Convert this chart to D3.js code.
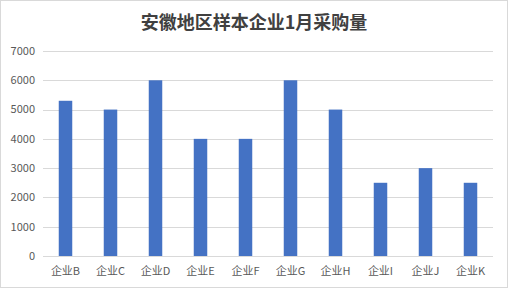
<!DOCTYPE html>
<html>
<head>
<meta charset="utf-8">
<script src="https://cdn.jsdelivr.net/npm/d3@7"></script>
<style>
  body { margin: 0; background: #fff; }
  svg text { font-family: "Noto Sans CJK SC", "DejaVu Sans", sans-serif; }
</style>
</head>
<body>
<div id="chart"></div>
<script>
// chart data
let title = "安徽地区样本企业1月采购量";
let companies = ["企业B","企业C","企业D","企业E","企业F","企业G","企业H","企业I","企业J","企业K"];
let purchases = [5300,5000,6000,4000,4000,6000,5000,2500,3000,2500];
let yTicks = [0,1000,2000,3000,4000,5000,6000,7000];

let width = 508,
    height = 289,
    margin = {top: 51, right: 15, bottom: 33, left: 43};

let svg = d3.select("#chart").append("svg")
    .attr("width", width)
    .attr("height", height);

// outer border
svg.append("rect")
    .attr("x", 0.5).attr("y", 0.5)
    .attr("width", width - 1).attr("height", height - 2)
    .attr("fill", "#fff")
    .attr("stroke", "#d9d9d9");

let x = d3.scaleBand()
    .domain(companies)
    .range([margin.left, width - margin.right])
    .paddingInner(0.7)
    .paddingOuter(0.35);

let y = d3.scaleLinear()
    .domain([0, 7000])
    .range([height - margin.bottom, margin.top]);

// gridlines
svg.append("g")
    .selectAll("line")
    .data(yTicks)
    .enter().append("line")
    .attr("x1", margin.left)
    .attr("x2", width - margin.right)
    .attr("y1", d => Math.round(y(d)) + 0.5)
    .attr("y2", d => Math.round(y(d)) + 0.5)
    .attr("stroke", "#d9d9d9")
    .attr("stroke-width", 1);

// y labels
svg.append("g")
    .selectAll("text")
    .data(yTicks)
    .enter().append("text")
    .attr("x", margin.left - 8)
    .attr("y", d => y(d))
    .attr("dy", "0.35em")
    .attr("text-anchor", "end")
    .attr("font-size", 11)
    .attr("fill", "#595959")
    .text(d => d);

// bars
svg.append("g")
    .selectAll("rect")
    .data(companies)
    .enter().append("rect")
    .attr("x", d => x(d))
    .attr("width", x.bandwidth())
    .attr("y", (d, i) => y(purchases[i]))
    .attr("height", (d, i) => y(0) - y(purchases[i]))
    .attr("fill", "#4472C4");

// x labels
svg.append("g")
    .selectAll("text")
    .data(companies)
    .enter().append("text")
    .attr("x", d => x(d) + x.bandwidth() / 2)
    .attr("y", y(0) + 19)
    .attr("text-anchor", "middle")
    .attr("font-size", 11)
    .attr("fill", "#595959")
    .text(d => d);

// title
svg.append("text")
    .attr("x", width / 2)
    .attr("y", 29)
    .attr("text-anchor", "middle")
    .attr("font-size", 18)
    .attr("font-weight", "bold")
    .attr("fill", "#404040")
    .text(title);
</script>
</body>
</html>
